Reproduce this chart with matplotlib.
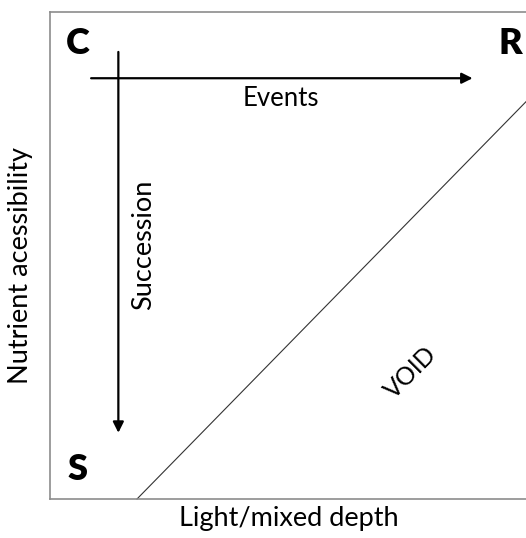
import matplotlib
matplotlib.use("Agg")
import matplotlib.pyplot as plt

plt.rcParams['font.family'] = ['Lato', 'DejaVu Sans']

# corner strategies (C-S-R triangle) and their positions in axes units
corner_labels = ['C', 'R', 'S']
corner_x = [0.059, 0.964, 0.057]
corner_y = [0.936, 0.936, 0.060]

# process arrows: (start, end)
events_start = (0.086, 0.864)
events_end = (0.884, 0.864)
succession_start = (0.143, 0.918)
succession_end = (0.143, 0.136)

# boundary of the void region
void_x = [0.182, 1.0]
void_y = [0.0, 0.82]

W, H = 526, 538
fig = plt.figure(figsize=(W / 100, H / 100), dpi=100)
ax = fig.add_axes([50 / W, 39 / H, 478 / W, 487 / H])
ax.set_xlim(0, 1)
ax.set_ylim(0, 1)
ax.set_xticks([])
ax.set_yticks([])
for s in ax.spines.values():
    s.set_color('#8c8c8c')
    s.set_linewidth(1.2)

for lab, x, y in zip(corner_labels, corner_x, corner_y):
    ax.text(x, y, lab, fontsize=26, fontweight='heavy', ha='center', va='center')

arrow = dict(arrowstyle='-|>', color='black', lw=1.6, mutation_scale=16,
             shrinkA=0, shrinkB=0)
ax.annotate('', xy=events_end, xytext=events_start, arrowprops=arrow)
ax.annotate('', xy=succession_end, xytext=succession_start, arrowprops=arrow)

ax.text(0.482, 0.823, 'Events', fontsize=18.5, ha='center', va='center')
ax.text(0.195, 0.522, 'Succession', fontsize=19.5, ha='center', va='center',
        rotation=90)

ax.plot(void_x, void_y, color='#333333', lw=0.8, clip_on=False)
ax.text(0.755, 0.259, 'VOID', fontsize=18, ha='center', va='center',
        rotation=45)

ax.set_xlabel('Light/mixed depth', fontsize=19.5, labelpad=5)
ax.set_ylabel('Nutrient acessibility', fontsize=19.5)
ax.yaxis.set_label_coords(-0.036, 0.48)

fig.savefig('out.png', dpi=100)
